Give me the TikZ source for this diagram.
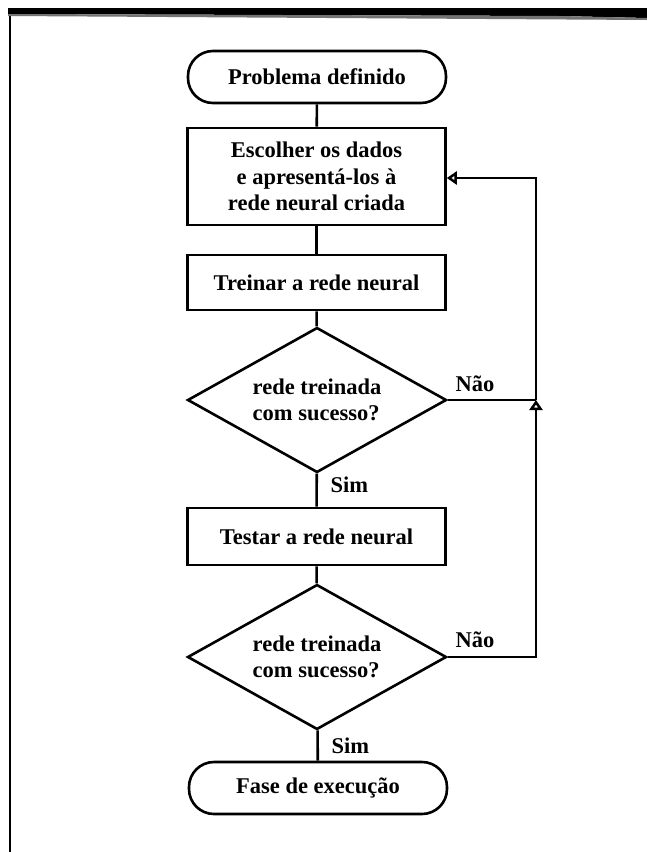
\documentclass[tikz,border=0pt]{standalone}
\usepackage{fontspec}
\setmainfont{Liberation Serif}
\usetikzlibrary{shapes.geometric,arrows.meta}
\begin{document}
\begin{tikzpicture}[x=1pt,y=-1pt,
  every node/.style={font=\fontsize{22.5}{26.5}\selectfont\bfseries},
  shape line/.style={draw, line width=2.6pt},
  terminal/.style={shape line, rectangle, rounded corners=25pt, minimum width=258pt, minimum height=52pt},
  process/.style={shape line, rectangle, minimum width=258pt, align=center},
  decision/.style={shape line, diamond, aspect=1.8, minimum width=259pt, minimum height=145pt, inner sep=0pt, align=left},
  link/.style={line width=2.6pt},
  openhead/.style={-{Triangle[open, length=10pt, width=13pt, line width=2.6pt]}},
  tag/.style={font=\fontsize{22.5}{24}\selectfont\bfseries}]
\useasboundingbox (0,0) rectangle (647,852);
\fill[white] (0,0) rectangle (647,852);
% scanned page edge: left rule and top bar
\draw[line width=2pt] (9.5,9) -- (9.5,852);
\fill[black] (8,8) -- (647,8) -- (647,18) -- (560,16) -- (8,14) -- cycle;
\fill[black!55] (8,14) -- (560,16) -- (647,18) -- (647,20) -- (8,16) -- cycle;

% flow steps
\node[terminal] (start) at (317,77) {Problema definido};
\node[process, minimum height=97pt] (choose) at (316.5,176.5) {Escolher os dados\\e apresentá-los à\\rede neural criada};
\node[process, minimum height=55pt] (train) at (316.5,282.5) {Treinar a rede neural};
\node[decision] (check1) at (317,400) {rede treinada\\com sucesso?};
\node[process, minimum height=57pt] (test) at (316.5,536.5) {Testar a rede neural};
\node[decision] (check2) at (317,657) {rede treinada\\com sucesso?};
\node[terminal] (run) at (318,788) {Fase de execução};

% main line
\draw[link] (start) -- (choose);
\draw[link] (choose) -- (train);
\draw[link] (train) -- (check1);
\draw[link] (check1) -- (test);
\draw[link] (test) -- (check2);
\draw[link] (check2) -- (run);

% return path
\coordinate (join) at (536,400);
\coordinate (low) at (536,657);
\coordinate (high) at (536,178);
\draw[link] (check1.east) -- (join);
\draw[link, openhead] (check2.east) -- (low) -- (join);
\draw[link, openhead] (join) -- (high) -- (choose.east |- high);

% branch labels
\node[tag, anchor=south west] at (452,395) {Não};
\node[tag, anchor=south west] at (452,651) {Não};
\node[tag, anchor=west] at (327,485) {Sim};
\node[tag, anchor=west] at (328,746) {Sim};
\end{tikzpicture}
\end{document}
